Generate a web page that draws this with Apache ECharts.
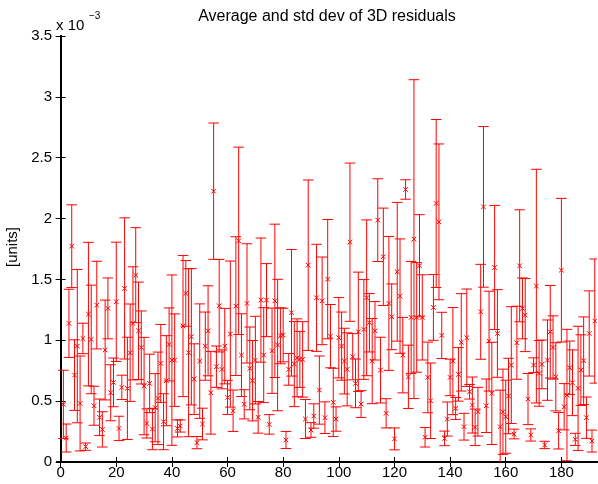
<!DOCTYPE html>
<html><head><meta charset="utf-8">
<script src="https://cdn.jsdelivr.net/npm/echarts@6/dist/echarts.min.js"></script>
<style>html,body{margin:0;padding:0;background:#fff}#c{width:598px;height:484px}</style>
</head><body><div id="c"></div>
<script>
// mean values (x 1e-3), one per index 1..N
const means = [
0.474,0.197,1.139,1.773,0.714,0.952,0.481,1.015,0.126,1.215,
1.007,0.462,1.289,0.367,0.268,0.92,1.262,0.569,0.654,1.316,
0.276,0.613,1.426,0.605,0.898,1.139,1.535,1.078,0.941,0.624,
0.317,0.646,0.271,0.446,0.523,0.81,0.331,0.668,0.966,0.837,
0.837,0.276,0.296,1.117,1.385,0.898,1.029,0.681,0.159,0.829,
0.312,0.952,1.078,0.569,2.225,0.783,1.284,0.761,0.952,0.531,
1.051,0.421,1.281,1.817,0.878,0.474,1.303,0.769,0.668,0.837,
0.367,1.33,0.878,1.33,0.309,0.914,1.324,0.961,1.037,1.043,
0.181,0.761,1.226,0.805,0.856,0.843,0.843,0.353,1.617,0.263,
0.378,1.349,0.591,1.324,0.364,1.502,1.034,0.49,0.353,1.021,
0.952,0.829,0.761,1.806,0.865,0.646,1.07,0.476,1.089,1.349,
1.144,0.829,1.078,1.987,0.755,1.686,0.4,1.303,1.193,0.19,
1.563,1.363,0.878,2.239,0.7,1.188,1.831,1.188,1.612,1.188,
0.203,0.695,0.503,1.27,2.124,1.973,1.04,0.194,0.353,0.695,
0.829,0.44,0.72,0.983,0.29,1.021,0.577,0.468,0.285,0.413,
1.234,2.096,0.462,0.993,0.564,1.598,1.056,0.29,0.413,0.372,
0.542,0.796,0.23,0.98,1.612,1.262,1.207,0.517,0.222,0.796,
1.445,0.728,0.802,0.14,0.837,1.07,0.941,0.7,0.257,1.576,
0.454,0.55,0.774,0.651,0.186,0.605,0.755,0.832,0.364,1.056,
0.172,1.158
];
// standard deviations (x 1e-3)
const stds = [
0.28,0.115,0.28,0.34,0.29,0.63,0.39,0.125,0.03,0.59,
0.446,0.16,0.36,0.15,0.145,0.41,0.25,0.23,0.2,0.49,
0.1,0.1,0.58,0.42,0.4,0.465,0.39,0.4,0.3,0.4,
0.12,0.24,0.17,0.28,0.38,0.32,0.23,0.37,0.3,0.7,
0.38,0.07,0.05,0.58,0.27,0.69,0.56,0.29,0.05,0.47,
0.13,0.28,0.37,0.34,0.56,0.17,0.38,0.16,0.31,0.14,
0.6,0.17,0.57,0.77,0.34,0.12,0.49,0.34,0.33,0.36,
0.13,0.51,0.39,0.3,0.08,0.35,0.63,0.54,0.23,0.22,
0.07,0.13,0.52,0.35,0.32,0.23,0.31,0.16,0.7,0.06,
0.1,0.44,0.28,0.36,0.13,0.49,0.26,0.28,0.1,0.33,
0.28,0.27,0.3,0.65,0.19,0.2,0.49,0.11,0.41,0.64,
0.24,0.35,0.24,0.34,0.27,0.4,0.12,0.55,0.27,0.09,
0.57,0.47,0.31,0.08,0.26,0.46,1.31,0.45,0.42,0.35,
0.08,0.29,0.31,0.27,0.69,0.64,0.19,0.06,0.14,0.15,
0.44,0.09,0.22,0.4,0.11,0.4,0.06,0.23,0.15,0.2,
0.39,0.66,0.22,0.41,0.42,0.51,0.36,0.3,0.35,0.3,
0.31,0.48,0.04,0.3,0.46,0.25,0.3,0.21,0.05,0.06,
0.96,0.27,0.2,0.03,0.33,0.38,0.26,0.28,0.15,0.59,
0.19,0.54,0.22,0.27,0.05,0.51,0.29,0.36,0.17,0.35,
0.09,0.51
];
const xTicks = [0,20,40,60,80,100,120,140,160,180];
const yTicks = [0,0.5,1,1.5,2,2.5,3,3.5];
const titleText = 'Average and std dev of 3D residuals';
const yLabel = '[units]';

const data = means.map((m, i) => [i + 1, m, stds[i]]);
const RED = '#ff0000';
const FONT = 'Liberation Sans, Arial, Helvetica, sans-serif';

function renderItem(params, api) {
  const x = api.value(0), m = api.value(1), s = api.value(2);
  const pT = api.coord([x, m + s]);
  const pB = api.coord([x, m - s]);
  const pM = api.coord([x, m]);
  const hw = api.size([1.9, 0])[0];
  const ms = 2.3;
  const st = { stroke: RED, lineWidth: 1, fill: null };
  return {
    type: 'group',
    children: [
      { type: 'line', shape: { x1: pT[0], y1: pT[1], x2: pB[0], y2: pB[1] }, style: st },
      { type: 'line', shape: { x1: pT[0] - hw, y1: pT[1], x2: pT[0] + hw, y2: pT[1] }, style: st },
      { type: 'line', shape: { x1: pB[0] - hw, y1: pB[1], x2: pB[0] + hw, y2: pB[1] }, style: st },
      { type: 'line', shape: { x1: pM[0] - ms, y1: pM[1] - ms, x2: pM[0] + ms, y2: pM[1] + ms }, style: st },
      { type: 'line', shape: { x1: pM[0] - ms, y1: pM[1] + ms, x2: pM[0] + ms, y2: pM[1] - ms }, style: st }
    ]
  };
}

const axLine = { show: true, lineStyle: { color: '#000', width: 2 } };
const tick = { show: true, inside: true, length: 5, lineStyle: { color: '#000', width: 1 } };
const chart = echarts.init(document.getElementById('c'), null, { renderer: 'canvas' });
chart.setOption({
  animation: false,
  backgroundColor: '#fff',
  grid: { left: 57, top: 36, right: 1, bottom: 22, containLabel: false },
  xAxis: [
    {
      type: 'value', min: -1.3, max: 192.8, position: 'bottom',
      axisLine: axLine,
      axisTick: Object.assign({ customValues: xTicks }, tick),
      axisLabel: { show: true, customValues: xTicks, color: '#000', fontSize: 15, fontFamily: FONT, margin: 3 },
      splitLine: { show: false }
    },
    {
      type: 'value', min: -1.3, max: 192.8, position: 'top',
      axisLine: axLine,
      axisTick: Object.assign({ customValues: xTicks }, tick),
      axisLabel: { show: false },
      splitLine: { show: false }
    }
  ],
  yAxis: [
    {
      type: 'value', min: 0, max: 3.5, interval: 0.5, position: 'left',
      axisLine: axLine,
      axisTick: Object.assign({ customValues: yTicks }, tick),
      axisLabel: { show: true, customValues: yTicks, color: '#000', fontSize: 15, fontFamily: FONT, margin: 5,
        formatter: v => String(v) },
      splitLine: { show: false }
    },
    {
      type: 'value', min: 0, max: 3.5, interval: 0.5, position: 'right',
      axisLine: axLine,
      axisTick: Object.assign({ customValues: yTicks }, tick),
      axisLabel: { show: false },
      splitLine: { show: false }
    }
  ],
  graphic: [
    { type: 'text', x: 327, y: 9, style: { text: titleText, fill: '#000', font: '16px ' + FONT, textAlign: 'center', textVerticalAlign: 'top' } },
    { type: 'text', x: 56, y: 18.5, style: { text: 'x 10', fill: '#000', font: '15px ' + FONT, textAlign: 'left', textVerticalAlign: 'top' } },
    { type: 'text', x: 89, y: 11, style: { text: '\u22123', fill: '#000', font: '10px ' + FONT, textAlign: 'left', textVerticalAlign: 'top' } },
    { type: 'text', x: 13, y: 247, rotation: Math.PI / 2, style: { text: yLabel, fill: '#000', font: '15px ' + FONT, textAlign: 'center', textVerticalAlign: 'middle' } }
  ],
  series: [
    {
      type: 'custom', xAxisIndex: 0, yAxisIndex: 0, clip: true,
      renderItem: renderItem,
      encode: { x: 0, y: [1] },
      data: data
    }
  ]
});
</script>
</body></html>
